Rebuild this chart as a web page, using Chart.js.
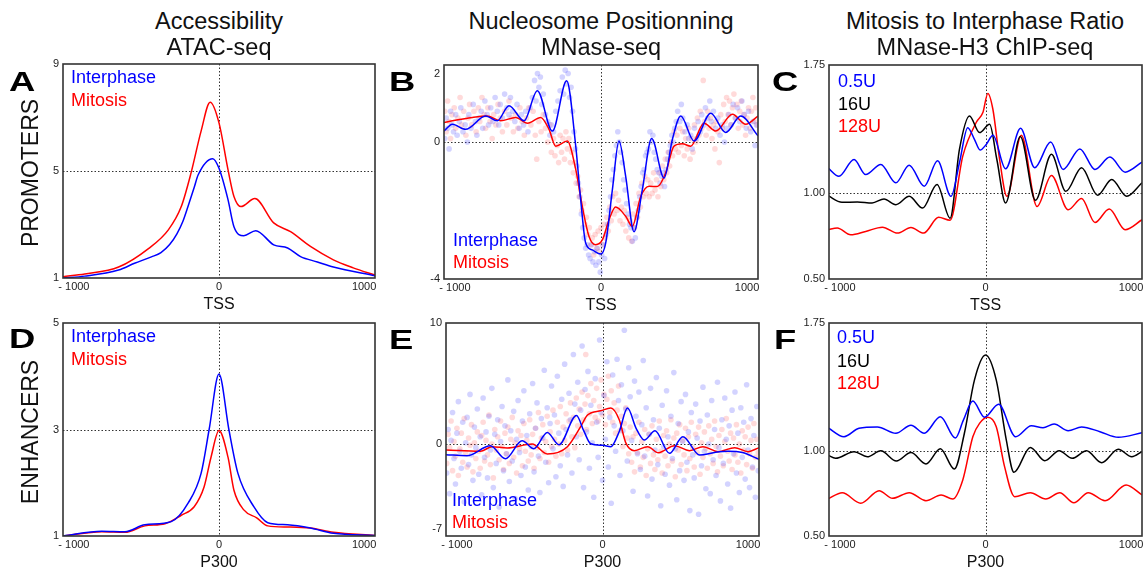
<!DOCTYPE html>
<html>
<head>
<meta charset="utf-8">
<script src="https://cdn.jsdelivr.net/npm/chart.js@4.4.0/dist/chart.umd.min.js"></script>
<style>
  body { margin: 0; background: #fff; width: 1146px; height: 574px; position: relative; overflow: hidden;
         font-family: "Liberation Sans", Arial, sans-serif; }
  canvas { position: absolute; }
  .txt { position: absolute; white-space: nowrap; z-index: 5; }
  .col { font-size: 23.5px; line-height: 23.5px; color: #111; transform: translateX(-50%); }
  .row { font-size: 23px; line-height: 23px; color: #111; transform: translate(-50%, -50%) rotate(-90deg); }
  .let { font-size: 28px; line-height: 28px; font-weight: bold; color: #000; transform: scaleX(1.3); transform-origin: left center; }
  .leg { font-size: 18px; line-height: 18px; }
</style>
</head>
<body>

<div class="txt col" style="left:219px; top:10px">Accessibility</div>
<div class="txt col" style="left:219px; top:36px">ATAC-seq</div>
<div class="txt col" style="left:601px; top:10px">Nucleosome Positionning</div>
<div class="txt col" style="left:601px; top:36px">MNase-seq</div>
<div class="txt col" style="left:985px; top:10px">Mitosis to Interphase Ratio</div>
<div class="txt col" style="left:985px; top:36px">MNase-H3 ChIP-seq</div>

<div class="txt row" style="left:30px; top:173px">PROMOTERS</div>
<div class="txt row" style="left:30px; top:432px">ENHANCERS</div>

<div class="txt let" style="left:9px; top:68px">A</div>
<div class="txt let" style="left:389px; top:68px">B</div>
<div class="txt let" style="left:772px; top:68px">C</div>
<div class="txt let" style="left:9px; top:325px">D</div>
<div class="txt let" style="left:389px; top:326px">E</div>
<div class="txt let" style="left:774px; top:326px">F</div>

<div class="txt leg" style="left:71px; top:68px; color:#0000ff">Interphase</div>
<div class="txt leg" style="left:71px; top:91px; color:#ff0000">Mitosis</div>
<div class="txt leg" style="left:453px; top:231px; color:#0000ff">Interphase</div>
<div class="txt leg" style="left:453px; top:253px; color:#ff0000">Mitosis</div>
<div class="txt leg" style="left:838px; top:72px; color:#0000ff">0.5U</div>
<div class="txt leg" style="left:838px; top:95px; color:#000">16U</div>
<div class="txt leg" style="left:838px; top:117px; color:#ff0000">128U</div>
<div class="txt leg" style="left:71px; top:327px; color:#0000ff">Interphase</div>
<div class="txt leg" style="left:71px; top:350px; color:#ff0000">Mitosis</div>
<div class="txt leg" style="left:452px; top:491px; color:#0000ff">Interphase</div>
<div class="txt leg" style="left:452px; top:513px; color:#ff0000">Mitosis</div>
<div class="txt leg" style="left:837px; top:328px; color:#0000ff">0.5U</div>
<div class="txt leg" style="left:837px; top:352px; color:#000">16U</div>
<div class="txt leg" style="left:837px; top:374px; color:#ff0000">128U</div>

<canvas id="pA" width="361" height="262" style="left:18px; top:52px"></canvas>
<canvas id="pB" width="363" height="262" style="left:399px; top:53px"></canvas>
<canvas id="pC" width="362" height="262" style="left:784px; top:53px"></canvas>
<canvas id="pD" width="361" height="261" style="left:18px; top:311px"></canvas>
<canvas id="pE" width="362" height="261" style="left:401px; top:311px"></canvas>
<canvas id="pF" width="362" height="261" style="left:784px; top:311px"></canvas>

<script>
// ---- A: ATAC-seq at promoters (TSS) ----
const aInterX = [-1075, -925, -692, -582, -466, -400, -340, -290, -250, -212, -170, -144, -43, 0, 62, 103, 171, 253, 377, 473, 562, 678, 788, 1075];
const aInterY = [1.0, 1.07, 1.30, 1.55, 1.79, 1.95, 2.25, 2.65, 3.1, 3.7, 4.4, 4.85, 5.46, 5.1, 3.93, 2.92, 2.58, 2.77, 2.24, 2.12, 1.8, 1.6, 1.41, 1.08];
const aMitoX = [-1075, -925, -692, -486, -349, -260, -192, -123, -61, 0, 62, 103, 151, 247, 377, 493, 630, 788, 925, 1075];
const aMitoY = [1.05, 1.15, 1.41, 2.1, 2.8, 3.67, 4.94, 6.5, 7.57, 6.8, 5.05, 4.05, 3.67, 3.97, 3.06, 2.73, 2.18, 1.68, 1.38, 1.11];

// ---- B: MNase-seq at promoters ----
const bInterX = [-1075, -1018, -927, -790, -710, -630, -527, -436, -333, -235, -173, -139, -105, -60, -2, 32, 78, 123, 169, 226, 283, 347, 432, 489, 546, 637, 751, 854, 957, 1075];
const bInterY = [0.32, 0.52, 0.37, 0.76, 0.62, 1.06, 0.62, 1.5, 0.32, 1.79, -0.12, -1.69, -2.95, -3.15, -3.27, -2.95, -1.39, 0.03, -1.0, -2.62, -1.39, 0.1, -1.05, 0.08, 0.76, 0.03, 0.84, 0.28, 0.76, 0.18];
const bMitoX = [-1075, -1018, -881, -780, -687, -584, -503, -413, -356, -310, -231, -173, -128, -82, -37, 9, 55, 100, 169, 214, 272, 329, 386, 443, 500, 557, 614, 705, 786, 900, 991, 1075];
const bMitoY = [0.57, 0.62, 0.72, 0.76, 0.62, 0.72, 0.55, 0.72, 0.37, -0.12, 0.03, -0.8, -1.88, -2.76, -3.0, -2.86, -2.27, -1.9, -2.17, -2.46, -1.59, -1.29, -1.3, -0.9, -0.12, -0.05, -0.12, 0.55, 0.32, 0.81, 0.52, 0.76];
const bInterDots = [[-1070,0.1],[-1060,0.7],[-1050,0.4],[-1040,-0.2],[-1030,0.9],[-1020,0.5],[-1010,0.3],[-995,0.8],[-985,0.2],[-970,0.6],[-960,1.0],[-945,0.3],[-930,0.5],[-915,0.0],[-905,0.8],[-890,0.4],[-875,1.1],[-860,0.6],[-850,0.2],[-835,0.7],[-820,0.9],[-810,0.4],[-795,1.2],[-780,0.8],[-770,0.5],[-755,1.0],[-740,0.6],[-725,1.3],[-710,0.9],[-700,0.5],[-690,1.1],[-675,0.7],[-660,1.4],[-645,1.0],[-630,0.8],[-620,1.3],[-605,0.9],[-590,0.6],[-575,1.1],[-560,0.4],[-545,0.8],[-530,0.5],[-515,0.9],[-500,0.3],[-485,1.0],[-470,1.3],[-455,1.8],[-445,1.2],[-435,2.0],[-425,1.6],[-415,1.9],[-405,1.1],[-395,1.4],[-380,0.8],[-365,0.6],[-350,0.2],[-340,0.5],[-325,0.3],[-310,0.9],[-295,1.2],[-280,1.5],[-265,1.9],[-255,1.4],[-245,2.1],[-235,1.7],[-225,2.0],[-215,1.3],[-205,1.6],[-195,0.9],[-185,0.3],[-175,-0.2],[-165,-0.7],[-155,-1.2],[-145,-1.6],[-135,-2.1],[-125,-2.5],[-115,-2.8],[-105,-3.1],[-95,-3.0],[-85,-3.3],[-75,-3.4],[-65,-3.0],[-55,-3.5],[-45,-3.2],[-35,-3.6],[-25,-3.1],[-15,-3.5],[-5,-3.8],[5,-3.3],[15,-3.0],[25,-3.4],[35,-2.7],[45,-2.4],[55,-2.0],[65,-1.6],[75,-1.1],[85,-0.8],[95,-0.4],[105,-0.1],[115,0.3],[125,0.0],[135,-0.3],[145,-0.6],[155,-1.1],[165,-1.4],[175,-1.8],[185,-2.1],[195,-2.4],[205,-2.5],[215,-2.9],[225,-2.5],[235,-2.8],[245,-2.2],[255,-2.0],[265,-1.6],[275,-1.3],[285,-0.9],[295,-0.8],[305,-0.4],[315,-0.3],[325,-0.2],[335,0.3],[345,0.0],[355,0.2],[365,-0.3],[375,-0.5],[385,-0.8],[395,-0.9],[405,-1.2],[415,-1.0],[425,-0.9],[435,-1.3],[445,-0.8],[455,-0.5],[465,-0.3],[475,-0.1],[485,0.2],[495,0.0],[505,0.4],[515,0.6],[525,0.9],[540,0.6],[550,1.1],[560,0.7],[575,0.3],[590,0.5],[600,0.1],[615,0.2],[625,-0.2],[640,0.4],[655,0.1],[665,0.6],[680,0.3],[690,0.8],[705,0.5],[715,1.0],[730,0.7],[745,1.2],[755,0.6],[770,0.9],[785,0.4],[800,0.7],[815,0.2],[830,0.5],[845,0.0],[860,0.4],[875,0.8],[890,0.5],[905,1.1],[920,0.7],[935,1.0],[950,0.6],[965,1.2],[980,0.8],[995,0.4],[1010,0.9],[1025,0.3],[1040,0.6],[1055,-0.1],[1065,0.5]];
const bMitoDots = [[-1070,0.9],[-1060,0.3],[-1050,1.2],[-1040,0.6],[-1030,0.1],[-1020,0.8],[-1005,1.0],[-995,0.4],[-980,0.7],[-965,1.3],[-955,0.5],[-940,0.9],[-925,0.2],[-910,0.7],[-900,1.1],[-885,0.5],[-870,0.9],[-855,0.3],[-840,1.0],[-830,0.6],[-815,1.3],[-800,0.8],[-790,0.4],[-775,1.0],[-760,0.6],[-745,0.1],[-735,0.8],[-720,0.5],[-705,1.1],[-690,0.7],[-675,0.3],[-660,0.9],[-645,0.5],[-630,1.2],[-615,0.7],[-600,0.3],[-585,0.8],[-570,0.4],[-555,1.0],[-540,0.6],[-525,0.2],[-510,0.7],[-495,1.0],[-480,0.5],[-465,0.9],[-450,0.2],[-440,-0.5],[-425,0.6],[-410,0.3],[-395,0.8],[-380,0.4],[-365,0.0],[-350,0.5],[-340,-0.3],[-325,0.1],[-315,-0.4],[-300,-0.1],[-290,-0.6],[-280,0.2],[-270,-0.3],[-260,0.1],[-250,-0.5],[-240,0.3],[-230,-0.2],[-220,0.1],[-210,-0.6],[-200,-0.3],[-190,-0.9],[-180,-0.6],[-170,-1.2],[-160,-1.0],[-150,-1.6],[-140,-1.4],[-130,-2.0],[-120,-1.8],[-110,-2.4],[-100,-2.2],[-90,-2.7],[-80,-2.5],[-70,-3.0],[-60,-2.8],[-50,-3.3],[-40,-2.7],[-30,-3.1],[-20,-2.6],[-10,-3.2],[0,-2.5],[10,-3.0],[20,-2.4],[30,-2.8],[40,-2.2],[50,-2.6],[60,-1.9],[70,-2.3],[80,-1.6],[90,-2.1],[100,-1.5],[110,-2.0],[120,-1.7],[130,-2.3],[140,-1.9],[150,-2.4],[160,-2.0],[170,-2.6],[180,-2.2],[190,-2.8],[200,-2.3],[210,-2.9],[220,-2.1],[230,-2.5],[240,-1.8],[250,-2.2],[260,-1.5],[270,-1.9],[280,-1.2],[290,-1.6],[300,-1.0],[310,-1.5],[320,-1.1],[330,-1.6],[340,-1.2],[350,-1.5],[360,-0.9],[370,-1.4],[380,-1.1],[390,-1.6],[400,-0.9],[410,-1.3],[420,-0.7],[430,-1.1],[440,-0.5],[450,-0.9],[460,-0.3],[470,-0.7],[480,0.0],[490,-0.4],[500,0.3],[510,-0.2],[520,0.2],[530,-0.3],[540,0.4],[550,-0.1],[560,0.3],[570,-0.4],[580,0.1],[590,-0.2],[600,0.4],[610,-0.5],[620,0.1],[630,-0.3],[640,0.5],[650,0.0],[660,0.7],[670,0.2],[680,0.9],[690,0.4],[700,1.8],[710,0.6],[720,0.2],[730,0.9],[740,0.4],[750,0.7],[760,0.1],[770,0.5],[780,-0.2],[790,0.6],[800,0.3],[810,-0.6],[820,0.8],[830,0.4],[840,1.1],[850,0.6],[860,1.3],[870,0.8],[880,1.2],[890,0.5],[900,1.0],[910,1.4],[920,0.7],[930,1.1],[940,0.4],[950,0.9],[960,1.2],[970,0.5],[980,0.8],[990,0.2],[1000,0.7],[1010,1.0],[1020,0.4],[1030,0.9],[1040,1.3],[1050,0.6],[1060,1.0],[1070,0.5]];

// ---- C: MNase-H3 ChIP ratio at promoters ----
const cBlueX = [-1083, -1007, -903, -823, -719, -616, -524, -421, -329, -237, -179, -122, -76, -37, 5, 51, 138, 241, 338, 448, 533, 648, 752, 855, 959, 1075];
const cBlueY = [1.15, 1.10, 1.198, 1.11, 1.169, 1.062, 1.165, 1.042, 1.19, 0.983, 1.179, 1.384, 1.316, 1.253, 1.286, 1.34, 1.144, 1.38, 1.15, 1.30, 1.14, 1.26, 1.14, 1.212, 1.124, 1.183];
const cBlackX = [-1083, -986, -880, -779, -697, -616, -524, -432, -333, -243, -179, -110, -41, 28, 78, 138, 239, 343, 453, 552, 660, 770, 867, 970, 1075];
const cBlackY = [0.987, 0.948, 0.95, 0.944, 0.968, 0.934, 0.983, 0.914, 1.052, 0.855, 1.257, 1.452, 1.355, 1.404, 1.198, 0.944, 1.332, 0.96, 1.228, 1.012, 1.15, 0.989, 1.081, 0.983, 1.062];
const cRedX = [-1083, -1018, -926, -823, -708, -605, -512, -425, -322, -243, -156, -64, -18, 16, 51, 97, 147, 246, 354, 453, 568, 660, 752, 850, 959, 1075];
const cRedY = [0.788, 0.798, 0.758, 0.778, 0.803, 0.768, 0.801, 0.768, 0.86, 0.843, 1.218, 1.414, 1.472, 1.584, 1.49, 1.198, 0.983, 1.34, 0.924, 1.104, 0.905, 0.97, 0.83, 0.909, 0.788, 0.846];

// ---- D: ATAC-seq at enhancers (P300) ----
const dInterX = [-1075, -808, -648, -511, -329, -212, -123, -68, 0, 68, 130, 240, 336, 473, 630, 788, 1075];
const dInterY = [1.0, 1.09, 1.08, 1.21, 1.27, 1.62, 2.18, 3.0, 4.04, 3.0, 2.18, 1.55, 1.25, 1.21, 1.15, 1.05, 1.01];
const dMitoX = [-1075, -808, -648, -511, -372, -260, -171, -103, -55, 0, 62, 103, 171, 260, 336, 473, 630, 788, 1075];
const dMitoY = [1.0, 1.08, 1.07, 1.19, 1.23, 1.39, 1.55, 1.92, 2.48, 2.98, 2.48, 1.86, 1.49, 1.34, 1.19, 1.17, 1.15, 1.07, 1.01];

// ---- E: MNase-seq at enhancers ----
const eInterX = [-1076, -931, -770, -667, -552, -472, -379, -299, -179, -127, -81, 0, 57, 115, 172, 230, 287, 361, 460, 552, 667, 770, 862, 960, 1075];
const eInterY = [-0.88, -0.97, -0.15, -1.22, 0.27, -0.39, 0.96, -0.06, 2.36, 1.04, 0.02, -0.1, -0.22, 1.04, 2.97, 1.32, 0.33, 1.1, -0.77, 0.6, -0.91, -0.7, -0.6, -0.7, -1.26];
const eMitoX = [-1076, -839, -758, -655, -483, -379, -241, -150, -103, -12, 57, 115, 161, 218, 310, 384, 494, 598, 690, 793, 908, 1000, 1075];
const eMitoY = [-0.5, -0.6, -0.22, -0.33, 0.0, -0.82, -0.22, 1.43, 2.4, 2.75, 2.97, 2.0, 0.07, -0.55, -0.22, -0.72, -0.14, -0.55, -0.22, -0.63, -0.3, -0.63, -0.3];
const eInterDots = [[-1070,-2.4],[-1060,1.2],[-1050,-4.1],[-1040,0.3],[-1030,2.6],[-1020,-1.2],[-1010,-3.3],[-1000,0.9],[-990,3.5],[-980,-0.6],[-970,-2.0],[-960,1.8],[-950,-4.8],[-940,0.1],[-930,2.2],[-920,-1.7],[-910,4.1],[-900,-0.9],[-890,-3.0],[-880,1.4],[-870,-0.3],[-860,2.9],[-850,-2.5],[-840,0.6],[-830,-4.2],[-820,3.8],[-810,-1.1],[-800,1.0],[-790,-2.8],[-780,2.3],[-770,-0.5],[-760,4.6],[-750,-3.6],[-740,0.8],[-730,-1.6],[-720,2.0],[-710,-5.2],[-700,0.2],[-690,3.1],[-680,-2.2],[-670,1.5],[-660,-0.8],[-650,5.3],[-640,-3.1],[-630,1.1],[-620,-1.4],[-610,2.7],[-600,-4.5],[-590,0.4],[-580,3.6],[-570,-0.7],[-560,-2.6],[-550,1.9],[-540,4.4],[-530,-1.9],[-520,0.7],[-510,-3.8],[-500,2.5],[-490,-0.2],[-480,5.0],[-470,-2.3],[-460,1.3],[-450,3.4],[-440,-1.0],[-430,-4.0],[-420,2.1],[-410,0.5],[-400,6.1],[-390,-1.5],[-380,3.0],[-370,-3.2],[-360,1.7],[-350,4.8],[-340,-0.4],[-330,2.4],[-320,-2.7],[-310,5.6],[-300,0.9],[-290,-1.8],[-280,3.7],[-270,-3.5],[-260,6.6],[-250,1.2],[-240,-0.9],[-230,4.2],[-220,2.0],[-210,-2.4],[-200,7.4],[-190,3.3],[-180,0.6],[-170,5.1],[-160,-1.3],[-150,2.8],[-140,8.1],[-130,-3.6],[-120,4.5],[-110,1.0],[-100,6.0],[-90,-2.0],[-80,3.2],[-70,0.1],[-60,-4.4],[-50,5.4],[-40,1.8],[-30,-1.1],[-20,8.6],[-10,2.6],[0,-3.0],[10,4.0],[20,0.4],[30,6.8],[40,-1.9],[50,2.2],[60,-4.9],[70,5.7],[80,1.5],[90,-0.6],[100,7.0],[110,3.6],[120,-2.6],[130,4.9],[140,1.1],[150,9.4],[160,2.9],[170,-1.4],[180,6.3],[190,3.9],[200,0.3],[210,-3.9],[220,5.2],[230,2.3],[240,-0.8],[250,4.3],[260,-2.1],[270,1.6],[280,6.9],[290,-1.0],[300,3.0],[310,-4.3],[320,0.8],[330,4.6],[340,-2.9],[350,2.0],[360,-0.5],[370,5.5],[380,-1.7],[390,1.3],[400,-5.1],[410,3.2],[420,-0.2],[430,-2.5],[440,4.4],[450,0.6],[460,-3.4],[470,2.3],[480,-1.2],[490,5.9],[500,-0.4],[510,-4.6],[520,1.7],[530,-2.2],[540,3.5],[550,0.2],[560,-3.0],[570,4.1],[580,-1.5],[590,1.0],[600,-5.5],[610,2.6],[620,-0.9],[630,-2.8],[640,3.3],[650,0.5],[660,-5.8],[670,1.9],[680,-1.8],[690,4.7],[700,-0.6],[710,-3.7],[720,2.4],[730,0.0],[740,-4.1],[750,3.6],[760,-1.3],[770,1.2],[780,-2.6],[790,5.1],[800,-0.3],[810,-4.7],[820,2.0],[830,-1.6],[840,3.8],[850,0.4],[860,-3.3],[870,1.5],[880,-5.3],[890,2.8],[900,-0.8],[910,4.3],[920,-2.4],[930,0.9],[940,-4.0],[950,3.0],[960,-1.1],[970,1.8],[980,-2.9],[990,4.9],[1000,-0.5],[1010,-3.6],[1020,2.1],[1030,-1.9],[1040,0.7],[1050,-4.4],[1060,3.1],[1070,-2.2]];
const eMitoDots = [[-1070,-1.6],[-1060,0.8],[-1050,-0.3],[-1040,1.9],[-1030,-2.2],[-1020,0.2],[-1010,-1.0],[-1000,1.3],[-990,-2.6],[-980,-0.4],[-970,0.9],[-960,-1.5],[-950,2.1],[-940,-0.7],[-930,-1.9],[-920,0.5],[-910,-0.1],[-900,1.6],[-890,-2.3],[-880,0.1],[-870,-1.2],[-860,1.0],[-850,-0.6],[-840,-2.0],[-830,0.7],[-820,1.8],[-810,-1.4],[-800,0.3],[-790,-0.9],[-780,2.4],[-770,-1.7],[-760,0.0],[-750,-2.8],[-740,1.2],[-730,-0.5],[-720,0.6],[-710,-1.3],[-700,1.9],[-690,-0.2],[-680,-2.1],[-670,0.9],[-660,-0.8],[-650,1.4],[-640,-1.6],[-630,0.4],[-620,2.2],[-610,-1.1],[-600,0.1],[-590,-2.4],[-580,1.1],[-570,-0.4],[-560,0.7],[-550,-1.8],[-540,1.7],[-530,-0.6],[-520,0.3],[-510,-1.4],[-500,2.0],[-490,-0.9],[-480,0.8],[-470,-2.0],[-460,1.3],[-450,-0.3],[-440,2.6],[-430,-1.2],[-420,0.5],[-410,1.6],[-400,-0.7],[-390,0.2],[-380,2.3],[-370,-1.5],[-360,1.0],[-350,-0.2],[-340,2.8],[-330,0.4],[-320,-1.0],[-310,1.8],[-300,0.0],[-290,3.1],[-280,-0.8],[-270,1.4],[-260,0.3],[-250,2.5],[-240,-0.5],[-230,1.9],[-220,3.4],[-210,0.6],[-200,2.2],[-190,-0.3],[-180,3.8],[-170,1.5],[-160,2.9],[-150,0.8],[-140,4.3],[-130,2.0],[-120,3.3],[-115,7.4],[-110,1.2],[-100,4.0],[-90,2.5],[-80,5.0],[-70,1.7],[-60,3.6],[-50,2.2],[-40,4.6],[-30,1.9],[-20,3.1],[-10,5.3],[0,2.4],[10,4.1],[20,1.6],[30,3.7],[40,5.6],[50,2.6],[60,4.4],[70,1.8],[80,3.4],[90,0.9],[100,2.8],[110,4.8],[120,1.1],[130,2.3],[140,-0.2],[150,1.7],[160,3.0],[170,0.5],[180,-0.8],[190,1.4],[200,-1.5],[210,0.6],[220,-2.3],[230,0.9],[240,-0.7],[250,1.8],[260,-1.9],[270,0.2],[280,-1.1],[290,1.2],[300,-2.6],[310,-0.4],[320,0.8],[330,-1.6],[340,1.5],[350,-0.9],[360,-2.1],[370,0.4],[380,-1.3],[390,1.9],[400,-0.6],[410,-2.4],[420,0.7],[430,-1.0],[440,1.1],[450,-1.8],[460,0.0],[470,2.0],[480,-1.4],[490,0.5],[500,-2.7],[510,0.9],[520,-0.5],[530,1.6],[540,-1.7],[550,0.3],[560,-0.9],[570,1.3],[580,-2.2],[590,0.6],[600,-1.2],[610,1.8],[620,-0.3],[630,-1.9],[640,0.8],[650,-0.7],[660,1.4],[670,-2.5],[680,0.1],[690,-1.1],[700,1.0],[710,-0.4],[720,-2.0],[730,1.5],[740,-0.8],[750,0.4],[760,-1.6],[770,1.9],[780,-0.2],[790,-2.3],[800,0.7],[810,-1.0],[820,1.2],[830,-1.8],[840,0.2],[850,2.1],[860,-0.6],[870,-1.4],[880,0.9],[890,-2.1],[900,0.5],[910,-0.9],[920,1.6],[930,-1.5],[940,0.0],[950,-2.4],[960,1.1],[970,-0.5],[980,0.6],[990,-1.7],[1000,1.4],[1010,-0.8],[1020,0.3],[1030,-2.0],[1040,1.7],[1050,-1.1],[1060,0.4],[1070,-0.7]];

// ---- F: MNase-H3 ChIP ratio at enhancers ----
const fBlueX = [-1083, -972, -869, -743, -616, -512, -421, -310, -207, -152, -87, -7, 90, 207, 315, 395, 471, 568, 660, 786, 912, 1075];
const fBlueY = [1.136, 1.083, 1.132, 1.14, 1.103, 1.15, 1.103, 1.20, 1.075, 1.18, 1.292, 1.197, 1.273, 1.083, 1.147, 1.136, 1.157, 1.118, 1.14, 1.112, 1.079, 1.106];
const fBlackX = [-1083, -1030, -903, -812, -719, -612, -512, -409, -310, -214, -145, -76, 0, 74, 143, 195, 308, 407, 506, 595, 694, 798, 912, 1005, 1075];
const fBlackY = [0.975, 0.956, 0.995, 0.965, 1.0, 0.94, 0.99, 0.923, 1.012, 0.893, 1.103, 1.415, 1.562, 1.415, 1.063, 0.874, 1.02, 0.942, 1.0, 0.956, 1.0, 0.93, 1.009, 0.965, 0.995];
const fRedX = [-1083, -984, -857, -731, -639, -524, -409, -305, -225, -156, -87, -41, 16, 74, 131, 200, 308, 414, 510, 607, 706, 821, 966, 1075];
const fRedY = [0.717, 0.754, 0.692, 0.766, 0.721, 0.754, 0.707, 0.741, 0.717, 0.829, 1.083, 1.161, 1.197, 1.141, 0.907, 0.731, 0.754, 0.717, 0.754, 0.695, 0.754, 0.707, 0.799, 0.741];

const BLUE = '#0000ff', RED = '#ff0000', BLACK = '#000000';

Chart.defaults.font.family = '"Liberation Sans", Arial, sans-serif';
Chart.defaults.color = '#222';

// dotted reference lines + frame
const refLines = {
  id: 'refLines',
  beforeDatasetsDraw(chart, args, opts) {
    const { ctx, chartArea: a, scales: { x, y } } = chart;
    ctx.save();
    ctx.strokeStyle = '#333';
    ctx.lineWidth = 1;
    ctx.setLineDash([1.5, 2]);
    const px = Math.round(x.getPixelForValue(0)) + 0.5;
    const py = Math.round(y.getPixelForValue(opts.y)) + 0.5;
    ctx.beginPath();
    ctx.moveTo(px, a.top); ctx.lineTo(px, a.bottom);
    ctx.moveTo(a.left, py); ctx.lineTo(a.right, py);
    ctx.stroke();
    ctx.restore();
  },
  afterDraw(chart) {
    const { ctx, chartArea: a } = chart;
    ctx.save();
    ctx.strokeStyle = '#333';
    ctx.lineWidth = 1.6;
    ctx.strokeRect(a.left, a.top, a.right - a.left, a.bottom - a.top);
    ctx.restore();
  }
};

function pts(xs, ys) { return xs.map((x, i) => ({ x: x, y: ys[i] })); }

function line(xs, ys, color) {
  return { data: pts(xs, ys), borderColor: color, borderWidth: 1.5, pointRadius: 0,
           cubicInterpolationMode: 'monotone', fill: false, order: 1 };
}

function dots(list, color) {
  return { data: list.map(p => ({ x: p[0], y: p[1] })), showLine: false, pointRadius: 2.8,
           pointBorderWidth: 0, pointBackgroundColor: color, order: 2 };
}

function panel(id, datasets, yMin, yMax, yTicks, refY, xTitle, yFmt) {
  new Chart(document.getElementById(id), {
    type: 'line',
    data: { datasets: datasets },
    options: {
      responsive: false,
      animation: false,
      devicePixelRatio: 1,
      layout: { padding: { top: 12, right: 4, left: 0, bottom: 0 } },
      plugins: { legend: { display: false }, tooltip: { enabled: false }, refLines: { y: refY } },
      scales: {
        x: {
          type: 'linear', min: -1075, max: 1075,
          afterBuildTicks: s => { s.ticks = [-1000, 0, 1000].map(v => ({ value: v })); },
          afterFit: s => { s.height = 36; },
          ticks: { callback: v => v < 0 ? '- ' + Math.abs(v) : String(v), font: { size: 11 }, padding: 2, maxRotation: 0, autoSkip: false },
          grid: { display: false, drawTicks: false },
          border: { display: false },
          title: { display: true, text: xTitle, font: { size: 16 }, color: '#111', padding: { top: 0, bottom: 0 } }
        },
        y: {
          type: 'linear', min: yMin, max: yMax,
          afterBuildTicks: s => { s.ticks = yTicks.map(v => ({ value: v })); },
          afterFit: s => { s.width = 45; },
          ticks: { callback: yFmt, font: { size: 11 }, padding: 4, autoSkip: false },
          grid: { display: false, drawTicks: false },
          border: { display: false }
        }
      }
    },
    plugins: [refLines]
  });
}

const intFmt = v => String(v);
const ratioFmt = v => v.toFixed(2);

panel('pA', [line(aInterX, aInterY, BLUE), line(aMitoX, aMitoY, RED)], 1, 9, [1, 5, 9], 5, 'TSS', intFmt);
panel('pB', [dots(bInterDots, 'rgba(70,70,255,0.24)'), dots(bMitoDots, 'rgba(255,70,70,0.2)'),
             line(bInterX, bInterY, BLUE), line(bMitoX, bMitoY, RED)], -4.0, 2.25, [-4, 0, 2], 0, 'TSS', intFmt);
panel('pC', [line(cBlueX, cBlueY, BLUE), line(cBlackX, cBlackY, BLACK), line(cRedX, cRedY, RED)], 0.5, 1.75, [0.5, 1.0, 1.75], 1.0, 'TSS', ratioFmt);
panel('pD', [line(dInterX, dInterY, BLUE), line(dMitoX, dMitoY, RED)], 1, 5, [1, 3, 5], 3, 'P300', intFmt);
panel('pE', [dots(eInterDots, 'rgba(70,70,255,0.24)'), dots(eMitoDots, 'rgba(255,70,70,0.2)'),
             line(eInterX, eInterY, BLUE), line(eMitoX, eMitoY, RED)], -7.6, 10, [-7, 0, 10], 0, 'P300', intFmt);
panel('pF', [line(fBlueX, fBlueY, BLUE), line(fBlackX, fBlackY, BLACK), line(fRedX, fRedY, RED)], 0.5, 1.75, [0.5, 1.0, 1.75], 1.0, 'P300', ratioFmt);
</script>
</body>
</html>
